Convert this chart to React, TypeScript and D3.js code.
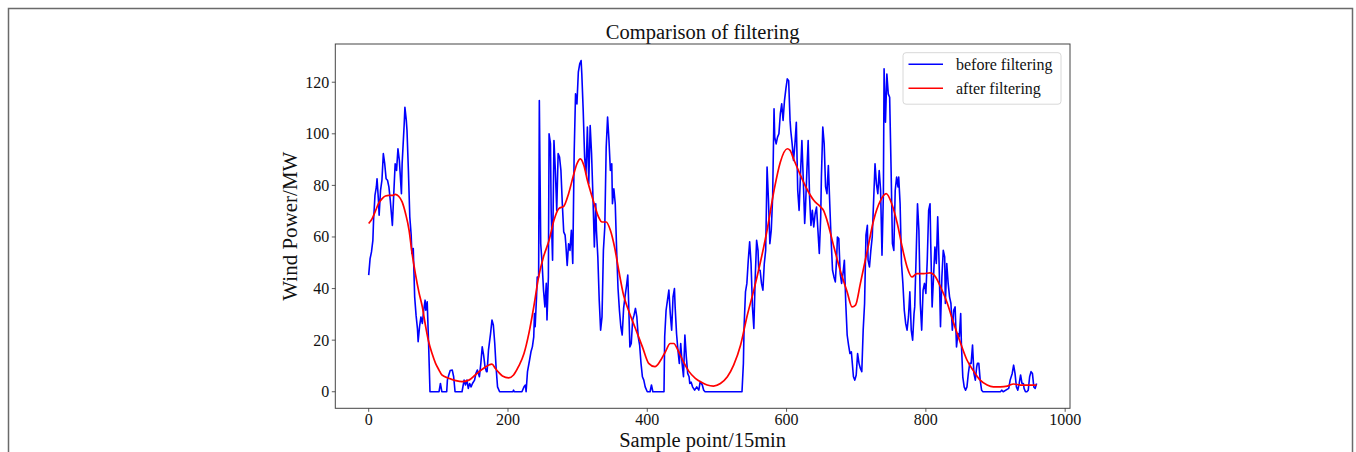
import React from "react";
import * as d3 from "d3";

const chartTitle = "Comparison of filtering";
const xAxisLabel = "Sample point/15min";
const yAxisLabel = "Wind Power/MW";
const seriesNames = ["before filtering", "after filtering"];
const xTicks = [0, 200, 400, 600, 800, 1000];
const yTicks = [0, 20, 40, 60, 80, 100, 120];

// [sample point, wind power]
const beforeFiltering: [number, number][] = [
  [0,45.2],[2,51.6],[4,54.2],[6,58.7],[7,66.5],[9,76.1],[11,79.4],[12,82.6],[14,74.2],[15,68.4],[17,78.1],[19,82],[21,92.3],[23,88.4],[25,82.6],[27,82],[29,79.4],[31,74.2],[34,64.5],[36,76.8],[38,88.4],[40,85.8],[42,94.2],[44,89.7],[47,76.8],[48,88.4],[51,103.9],[52,110.3],[54,105.2],[55,101.3],[57,85.8],[59,67.8],[61,60.7],[62,53.6],[64,55.5],[66,36.8],[68,29.7],[70,24.5],[71,19.4],[73,25.2],[75,29],[77,26.5],[79,31.6],[81,35.5],[82,31.6],[84,34.9],[86,18.7],[88,0],[101,0],[103,3.2],[105,0],[112,0],[113,4.5],[115,6.5],[117,8.2],[120,8.4],[122,5.8],[124,0],[134,0],[137,4.5],[139,2.6],[141,4.5],[143,1.3],[145,3.2],[147,1.9],[149,3.2],[152,4.5],[154,7.1],[156,8.4],[159,5.8],[161,11],[163,17.4],[165,14.2],[167,9.7],[169,7.8],[170,7.8],[172,16.1],[175,22.6],[177,27.8],[179,25.8],[181,18.7],[183,9],[185,1.9],[188,0],[207,0],[208,0.6],[209,0],[220,0],[223,1.9],[225,2.6],[226,0],[228,7.8],[231,12.3],[233,15.5],[235,17.4],[237,21.3],[238,30.3],[239,25.2],[241,36.8],[242,44.5],[244,44.5],[245,112.9],[247,57.4],[249,49.7],[251,39.4],[253,32.9],[255,42],[256,27.8],[258,44.5],[259,100],[261,96.1],[262,70.3],[264,51],[266,97.4],[268,85.8],[270,70.3],[272,92.3],[274,91],[276,85.8],[278,72.9],[280,62],[282,60.7],[283,57.4],[285,49],[287,57.4],[289,54.8],[291,62.6],[293,49.7],[295,92.3],[297,115.5],[299,111.6],[301,123.9],[303,127.1],[305,128.4],[306,123.2],[308,109],[310,91],[312,84.5],[314,102.6],[316,80.6],[318,103.2],[320,92.3],[322,75.5],[324,56.1],[326,72.9],[327,62.6],[329,52.3],[331,35.5],[333,23.9],[335,29],[337,54.8],[339,63.9],[341,94.8],[343,106.5],[345,97.4],[347,85.8],[349,88.4],[350,72.9],[352,78.7],[354,72.9],[356,54.8],[358,40],[360,31.6],[362,25.2],[364,22],[366,32.3],[368,36.8],[370,40.7],[372,45.2],[373,36.8],[375,17.4],[377,18.7],[379,27.8],[381,29.7],[383,32.3],[385,29],[387,21.3],[389,18.1],[391,11],[393,5.8],[395,4.5],[397,1.9],[400,0],[404,0],[406,2.6],[408,0],[424,0],[425,21.3],[427,31.6],[429,35.5],[431,39.4],[433,30.3],[435,23.9],[437,36.8],[439,40],[440,32.9],[442,22.6],[444,16.1],[446,11],[448,18.7],[450,11],[452,5.8],[454,22],[456,13.6],[458,7.1],[460,5.8],[461,3.2],[463,3.7],[465,1.9],[468,0.6],[471,1.9],[474,0.6],[476,3.9],[479,2.6],[481,0.6],[483,0],[536,0],[538,11],[539,25.2],[541,38.7],[543,42],[545,51],[547,58.1],[549,49.7],[551,32.9],[553,24.5],[555,44.5],[557,58.7],[559,54.8],[560,47.1],[562,47.1],[564,42],[566,39.4],[568,49.7],[570,54.8],[572,87.1],[574,74.2],[576,57.4],[578,62.6],[580,75.5],[582,109.7],[583,98.7],[585,96.1],[587,98.7],[589,100],[591,107.7],[593,111.6],[595,105.2],[597,112.9],[599,117.4],[601,121.3],[603,120.6],[605,105.2],[606,101.3],[608,96.1],[610,89.7],[612,96.1],[614,104.5],[616,78.1],[618,70.3],[620,84.5],[622,97.4],[624,82],[626,65.2],[627,70.3],[629,84.5],[631,97.4],[633,75.5],[635,64.5],[637,70.3],[639,63.9],[641,69],[643,71.6],[645,62.6],[647,53.6],[649,67.8],[650,83.2],[652,102.6],[654,96.1],[656,79.4],[658,76.8],[660,87.7],[662,72.9],[664,58.7],[666,47.1],[668,44.5],[670,42.6],[672,52.3],[673,60],[675,59.4],[677,45.8],[679,42],[681,45.8],[683,51],[685,34.2],[687,22],[689,18.1],[691,14.8],[693,15.5],[694,12.3],[696,5.8],[698,4.5],[700,6.5],[702,14.8],[704,11],[706,9],[708,7.8],[710,23.9],[712,34.2],[714,60.7],[716,64.5],[717,51],[719,48.4],[721,54.8],[723,60],[725,74.2],[727,88.4],[729,80.6],[731,76.8],[733,85.8],[735,78.1],[737,52.9],[739,76.8],[740,125.2],[742,104.5],[744,123.2],[746,115.5],[748,114.2],[750,87.1],[752,57.4],[754,54.8],[756,78.1],[758,83.2],[760,79.4],[761,83.2],[763,72.9],[765,49.7],[767,42],[769,31.6],[771,26.5],[773,23.9],[775,29],[777,38.7],[779,23.9],[781,20],[783,30.3],[784,32.9],[786,52.3],[788,72.9],[790,62.6],[792,34.2],[794,23.9],[796,39.4],[798,42],[800,38.1],[802,51],[804,70.3],[806,72.9],[807,57.4],[809,32.9],[811,44.5],[813,56.1],[815,49.7],[817,67.8],[819,49.7],[821,25.2],[823,44.5],[825,54.8],[827,52.3],[828,34.2],[830,49.7],[832,42],[834,36.8],[836,34.2],[838,23.9],[840,31.6],[842,32.9],[844,17.4],[846,22.6],[848,21.3],[850,30.3],[851,18.7],[853,5.8],[855,1.9],[857,0.6],[859,1.9],[861,7.1],[863,11],[865,11],[867,18.1],[869,7.1],[871,4.5],[873,9.7],[874,11],[876,11],[878,4.5],[880,0.6],[882,0],[907,0],[909,0.6],[911,0],[919,1.3],[921,4.5],[924,7.1],[926,10.3],[928,7.1],[930,1.9],[932,0.6],[934,3.2],[936,6.5],[938,3.2],[940,3.2],[941,1.3],[943,0],[945,0],[947,0.6],[949,5.8],[951,7.8],[953,7.1],[955,1.9],[957,1.3],[959,3.2]
];

const afterFiltering: [number, number][] = [
  [0,65.2],[5,67.1],[10,70.3],[14,72.9],[19,74.8],[24,75.9],[29,76.1],[34,76.1],[38,76.5],[43,75.8],[48,73.6],[53,69],[58,62.6],[62,54.2],[67,45.8],[72,38.7],[77,32.9],[81,26.5],[86,19.5],[91,14.8],[96,11],[101,8.4],[105,6.5],[115,5.2],[125,4.3],[134,3.9],[144,4.5],[153,6.5],[163,8.7],[172,10.3],[177,10.7],[182,9],[187,7.4],[192,6.1],[201,5.4],[208,6.5],[215,9.7],[223,14.8],[230,22.6],[237,32.9],[244,44.5],[251,52.3],[259,58.7],[266,66.5],[273,71],[280,71.9],[287,76.8],[294,83.9],[299,88.4],[304,90.3],[309,87.7],[314,82],[318,78.1],[323,73.6],[330,67.8],[335,65.8],[341,65.8],[347,62.6],[353,56.1],[359,47.1],[366,37.4],[373,31.6],[383,24.5],[393,17.4],[402,11],[411,9.7],[419,12.1],[426,15.5],[433,18.7],[438,18.7],[445,15.5],[452,11.6],[460,7.8],[469,5.2],[479,3.5],[486,2.6],[495,2.2],[505,3.2],[515,5.8],[524,10.3],[534,18.1],[543,29],[553,39.4],[562,49.7],[572,62.6],[582,78.1],[591,89],[601,94.2],[605,93.6],[610,90.3],[620,83.9],[629,78.7],[639,74.2],[649,71.6],[653,70.3],[658,66.5],[668,56.1],[677,47.1],[687,38.7],[694,32.9],[699,33.6],[706,42],[716,54.8],[725,66.5],[735,74.2],[743,76.8],[751,72.9],[759,65.2],[766,56.1],[773,48.4],[780,44.5],[787,45.8],[797,45.8],[806,46.1],[814,44.5],[821,40.7],[830,34.9],[840,26.5],[850,18.7],[859,12.3],[869,7.8],[878,4.5],[888,2.6],[897,1.9],[907,1.9],[917,2.2],[926,3],[936,2.6],[945,2.6],[959,2.6]
];

const W = 1356;
const H = 452;
const plot = { left: 335.3, right: 1070, top: 44, bottom: 408.3 };
const FONT = "'Liberation Serif', 'Times New Roman', serif";

export default function App() {
  const xMin = 0, xMax = 959;
  const xPad = (xMax - xMin) * 0.05;
  const allY = beforeFiltering.map(d => d[1]).concat(afterFiltering.map(d => d[1]));
  const yMin = d3.min(allY) as number;
  const yMax = d3.max(allY) as number;
  const yPad = (yMax - yMin) * 0.05;

  const x = d3.scaleLinear().domain([xMin - xPad, xMax + xPad]).range([plot.left, plot.right]);
  const y = d3.scaleLinear().domain([yMin - yPad, yMax + yPad]).range([plot.bottom, plot.top]);

  const blueLine = d3.line<[number, number]>().x(d => x(d[0])).y(d => y(d[1]));
  const redLine = d3.line<[number, number]>().x(d => x(d[0])).y(d => y(d[1])).curve(d3.curveMonotoneX);

  const cx = (plot.left + plot.right) / 2;
  const cy = (plot.top + plot.bottom) / 2;

  const legend = { x: 903, y: 52.7, w: 158, h: 51.5 };

  return (
    <div style={{ position: "absolute", left: 0, top: 0, width: W, height: H, overflow: "hidden" }}>
      <svg width={W} height={H} style={{ display: "block", background: "#fff" }} fontFamily={FONT}>
        <rect x={8.5} y={8.5} width={1344} height={480} fill="none" stroke="#6a6a6a" strokeWidth={1.5} />

        <text x={cx} y={39} textAnchor="middle" fontSize={20.5} fill="#111">{chartTitle}</text>

        <path d={blueLine(beforeFiltering) || ""} fill="none" stroke="#0000ff" strokeWidth={1.6} strokeLinejoin="round" />
        <path d={redLine(afterFiltering) || ""} fill="none" stroke="#ff0000" strokeWidth={1.7} strokeLinejoin="round" />

        <rect x={plot.left} y={plot.top} width={plot.right - plot.left} height={plot.bottom - plot.top} fill="none" stroke="#444" strokeWidth={1} />

        {xTicks.map(t => (
          <g key={"x" + t}>
            <line x1={x(t)} x2={x(t)} y1={plot.bottom} y2={plot.bottom + 3.5} stroke="#333" strokeWidth={0.8} />
            <text x={x(t)} y={plot.bottom + 16.5} textAnchor="middle" fontSize={16} fill="#111">{t}</text>
          </g>
        ))}
        {yTicks.map(t => (
          <g key={"y" + t}>
            <line x1={plot.left - 3.5} x2={plot.left} y1={y(t)} y2={y(t)} stroke="#333" strokeWidth={0.8} />
            <text x={plot.left - 6} y={y(t) + 5.5} textAnchor="end" fontSize={16} fill="#111">{t}</text>
          </g>
        ))}

        <text x={cx} y={447} textAnchor="middle" fontSize={20.5} fill="#111">{xAxisLabel}</text>
        <text transform={`translate(297,${cy}) rotate(-90)`} textAnchor="middle" fontSize={21} fill="#111">{yAxisLabel}</text>

        <rect x={legend.x} y={legend.y} width={legend.w} height={legend.h} rx={3} fill="#fff" fillOpacity={0.8} stroke="#d8d8d8" strokeWidth={1} />
        {seriesNames.map((name, i) => (
          <g key={name}>
            <line x1={908.5} x2={943} y1={64.3 + i * 24} y2={64.3 + i * 24} stroke={i === 0 ? "#0000ff" : "#ff0000"} strokeWidth={1.6} />
            <text x={956} y={69.5 + i * 24} fontSize={16} fill="#111">{name}</text>
          </g>
        ))}
      </svg>
    </div>
  );
}
